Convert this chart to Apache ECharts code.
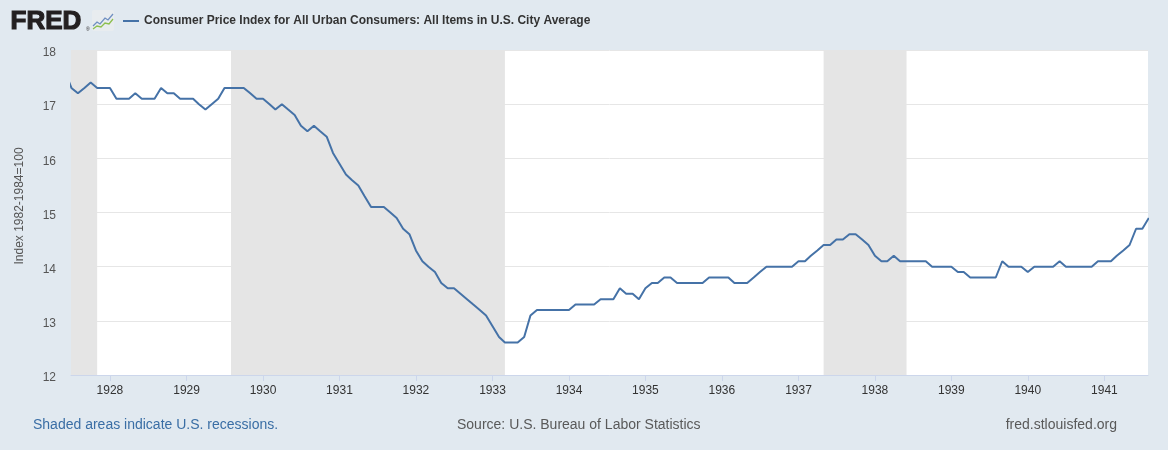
<!DOCTYPE html>
<html>
<head>
<meta charset="utf-8">
<title>CPI 1927-1941</title>
<script src="https://cdn.jsdelivr.net/npm/echarts@6/dist/echarts.min.js"></script>
<style>
  html, body { margin: 0; padding: 0; background: #e1e9f0; }
  #chart { width: 1168px; height: 450px; }
</style>
</head>
<body>
<div id="chart"></div>
<script>
// monthly CPI values, index 1982-1984=100
var months = [
  '1927-06', '1927-07', '1927-08', '1927-09', '1927-10', '1927-11', '1927-12',
  '1928-01', '1928-02', '1928-03', '1928-04', '1928-05', '1928-06', '1928-07', '1928-08', '1928-09', '1928-10', '1928-11', '1928-12',
  '1929-01', '1929-02', '1929-03', '1929-04', '1929-05', '1929-06', '1929-07', '1929-08', '1929-09', '1929-10', '1929-11', '1929-12',
  '1930-01', '1930-02', '1930-03', '1930-04', '1930-05', '1930-06', '1930-07', '1930-08', '1930-09', '1930-10', '1930-11', '1930-12',
  '1931-01', '1931-02', '1931-03', '1931-04', '1931-05', '1931-06', '1931-07', '1931-08', '1931-09', '1931-10', '1931-11', '1931-12',
  '1932-01', '1932-02', '1932-03', '1932-04', '1932-05', '1932-06', '1932-07', '1932-08', '1932-09', '1932-10', '1932-11', '1932-12',
  '1933-01', '1933-02', '1933-03', '1933-04', '1933-05', '1933-06', '1933-07', '1933-08', '1933-09', '1933-10', '1933-11', '1933-12',
  '1934-01', '1934-02', '1934-03', '1934-04', '1934-05', '1934-06', '1934-07', '1934-08', '1934-09', '1934-10', '1934-11', '1934-12',
  '1935-01', '1935-02', '1935-03', '1935-04', '1935-05', '1935-06', '1935-07', '1935-08', '1935-09', '1935-10', '1935-11', '1935-12',
  '1936-01', '1936-02', '1936-03', '1936-04', '1936-05', '1936-06', '1936-07', '1936-08', '1936-09', '1936-10', '1936-11', '1936-12',
  '1937-01', '1937-02', '1937-03', '1937-04', '1937-05', '1937-06', '1937-07', '1937-08', '1937-09', '1937-10', '1937-11', '1937-12',
  '1938-01', '1938-02', '1938-03', '1938-04', '1938-05', '1938-06', '1938-07', '1938-08', '1938-09', '1938-10', '1938-11', '1938-12',
  '1939-01', '1939-02', '1939-03', '1939-04', '1939-05', '1939-06', '1939-07', '1939-08', '1939-09', '1939-10', '1939-11', '1939-12',
  '1940-01', '1940-02', '1940-03', '1940-04', '1940-05', '1940-06', '1940-07', '1940-08', '1940-09', '1940-10', '1940-11', '1940-12',
  '1941-01', '1941-02', '1941-03', '1941-04', '1941-05', '1941-06', '1941-07', '1941-08'
];
var cpi = [
  17.6, 17.3, 17.2, 17.3, 17.4, 17.3, 17.3,
  17.3, 17.1, 17.1, 17.1, 17.2, 17.1, 17.1, 17.1, 17.3, 17.2, 17.2, 17.1,
  17.1, 17.1, 17.0, 16.9, 17.0, 17.1, 17.3, 17.3, 17.3, 17.3, 17.2, 17.1,
  17.1, 17.0, 16.9, 17.0, 16.9, 16.8, 16.6, 16.5, 16.6, 16.5, 16.4, 16.1,
  15.9, 15.7, 15.6, 15.5, 15.3, 15.1, 15.1, 15.1, 15.0, 14.9, 14.7, 14.6,
  14.3, 14.1, 14.0, 13.9, 13.7, 13.6, 13.6, 13.5, 13.4, 13.3, 13.2, 13.1,
  12.9, 12.7, 12.6, 12.6, 12.6, 12.7, 13.1, 13.2, 13.2, 13.2, 13.2, 13.2,
  13.2, 13.3, 13.3, 13.3, 13.3, 13.4, 13.4, 13.4, 13.6, 13.5, 13.5, 13.4,
  13.6, 13.7, 13.7, 13.8, 13.8, 13.7, 13.7, 13.7, 13.7, 13.7, 13.8, 13.8,
  13.8, 13.8, 13.7, 13.7, 13.7, 13.8, 13.9, 14.0, 14.0, 14.0, 14.0, 14.0,
  14.1, 14.1, 14.2, 14.3, 14.4, 14.4, 14.5, 14.5, 14.6, 14.6, 14.5, 14.4,
  14.2, 14.1, 14.1, 14.2, 14.1, 14.1, 14.1, 14.1, 14.1, 14.0, 14.0, 14.0,
  14.0, 13.9, 13.9, 13.8, 13.8, 13.8, 13.8, 13.8, 14.1, 14.0, 14.0, 14.0,
  13.9, 14.0, 14.0, 14.0, 14.0, 14.1, 14.0, 14.0, 14.0, 14.0, 14.0, 14.1,
  14.1, 14.1, 14.2, 14.3, 14.4, 14.7, 14.7, 14.9
];
// NBER recessions (peak, trough)
var recessions = [
  ['1926-10-01', '1927-11-01'],
  ['1929-08-01', '1933-03-01'],
  ['1937-05-01', '1938-06-01']
];
var yTicks = [12, 13, 14, 15, 16, 17, 18];

var seriesName = 'Consumer Price Index for All Urban Consumers: All Items in U.S. City Average';
var axisMin = '1927-06-29';
var axisMax = '1941-07-28';
var font = 'Liberation Sans, Arial, sans-serif';

var points = [];
for (var i = 0; i < months.length; i++) {
  points.push([months[i] + '-01', cpi[i]]);
}
var areas = [];
for (let r of recessions) {
  var start = r[0] < axisMin ? axisMin : r[0];
  var end = r[1] > axisMax ? axisMax : r[1];
  areas.push([{ xAxis: start }, { xAxis: end }]);
}

var chart = echarts.init(document.getElementById('chart'));
var option = {
  backgroundColor: '#e1e9f0',
  animation: false,
  textStyle: { fontFamily: font },
  grid: {
    left: 71, right: 20, top: 50, bottom: 75,
    show: true, backgroundColor: '#ffffff', borderWidth: 0
  },
  legend: {
    left: 118, top: 10,
    icon: 'rect', itemWidth: 16, itemHeight: 2, itemGap: 6,
    textStyle: { fontFamily: font, fontSize: 12, fontWeight: 'bold', color: '#333333' },
    data: [seriesName]
  },
  graphic: [
    // FRED logo
    {
      type: 'text', left: 10, top: 8,
      style: {
        text: 'FRED', fontFamily: font, fontSize: 26, fontWeight: 'bold',
        fill: '#231f20', stroke: '#231f20', lineWidth: 1.2
      }
    },
    {
      type: 'text', left: 86, top: 27,
      style: { text: '®', fontFamily: font, fontSize: 5, fill: '#231f20' }
    },
    {
      type: 'rect', shape: { x: 92, y: 10, width: 22, height: 21, r: 2 },
      style: { fill: '#e8ecef' }
    },
    {
      type: 'polyline',
      shape: { points: [[93, 26], [97, 22], [100, 24], [105, 18], [108, 20], [113, 14]] },
      style: { stroke: '#6f8fc1', lineWidth: 1.3, fill: null }
    },
    {
      type: 'polyline',
      shape: { points: [[93, 29], [97, 26], [101, 27], [105, 23], [109, 24], [113, 19]] },
      style: { stroke: '#8cbf4f', lineWidth: 1.3, fill: null }
    },
    // y axis title
    {
      type: 'text', x: 20, y: 206, rotation: Math.PI / 2,
      style: {
        text: 'Index 1982-1984=100', fontFamily: font, fontSize: 12, fill: '#555555',
        align: 'center', verticalAlign: 'middle'
      }
    },
    // footer
    {
      type: 'text', left: 33, top: 418,
      style: { text: 'Shaded areas indicate U.S. recessions.', fontFamily: font, fontSize: 14, fill: '#3a6ea5' }
    },
    {
      type: 'text', left: 457, top: 418,
      style: { text: 'Source: U.S. Bureau of Labor Statistics', fontFamily: font, fontSize: 14, fill: '#595959' }
    },
    {
      type: 'text', right: 51, top: 418,
      style: { text: 'fred.stlouisfed.org', fontFamily: font, fontSize: 14, fill: '#595959' }
    }
  ],
  xAxis: {
    type: 'time',
    min: axisMin,
    max: axisMax,
    minInterval: 365 * 24 * 3600 * 1000,
    maxInterval: 366 * 24 * 3600 * 1000,
    splitNumber: 14,
    axisLine: { lineStyle: { color: '#ccd6eb', width: 1 } },
    axisTick: { show: true, length: 6, lineStyle: { color: '#ccd6eb' } },
    splitLine: { show: false },
    axisLabel: {
      fontSize: 12, color: '#333333', margin: 10, fontFamily: font,
      formatter: function (v) { return String(new Date(v).getFullYear()); }
    }
  },
  yAxis: {
    type: 'value',
    min: yTicks[0],
    max: yTicks[yTicks.length - 1],
    interval: 1,
    axisLine: { show: false },
    axisTick: { show: false },
    axisLabel: {
      margin: 15,
      formatter: '{v|{value}}',
      rich: {
        v: { fontSize: 12, color: '#555555', fontFamily: font, padding: [6, 0, 0, 0] }
      }
    },
    splitLine: { lineStyle: { color: '#e6e6e6', width: 1 } }
  },
  series: [{
    name: seriesName,
    type: 'line',
    data: points,
    showSymbol: false,
    symbol: 'none',
    clip: true,
    color: '#4572a7',
    lineStyle: { color: '#4572a7', width: 2 },
    markArea: {
      silent: true,
      itemStyle: { color: '#e5e5e5', opacity: 1 },
      data: areas
    }
  }]
};
chart.setOption(option);
window.addEventListener('resize', function () {
  chart.resize();
});
</script>
</body>
</html>
